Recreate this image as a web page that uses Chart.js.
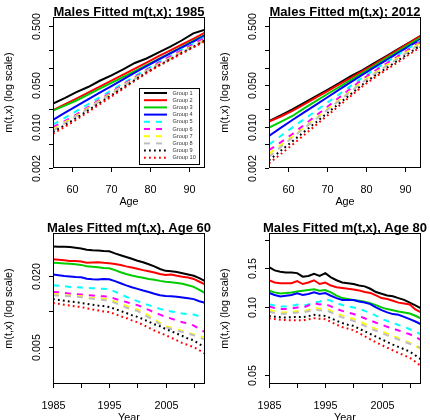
<!DOCTYPE html>
<html lang="en">
<head>
  <meta charset="UTF-8">
  <title>Males Fitted m(t,x)</title>
  <style>
    body { margin: 0; background: #fff; }
    #wrap { position: relative; width: 430px; height: 420px; overflow: hidden; }
    canvas { position: absolute; }
  </style>
</head>
<body>
  <div id="wrap">
    <canvas id="c1985" width="215" height="210" style="left:0;top:0"></canvas>
    <canvas id="c2012" width="215" height="210" style="left:215px;top:0"></canvas>
    <canvas id="cAge60" width="215" height="210" style="left:0;top:210px"></canvas>
    <canvas id="cAge80" width="215" height="210" style="left:215px;top:210px"></canvas>
  </div>

  <script src="https://cdn.jsdelivr.net/npm/chart.js"></script>
  <script>
    const groups = ['Group 1', 'Group 2', 'Group 3', 'Group 4', 'Group 5',
                    'Group 6', 'Group 7', 'Group 8', 'Group 9', 'Group 10'];

    const ages = [55, 58, 61, 64, 67, 70, 73, 76, 79, 82, 85, 88, 91, 94];
    const years = [1985, 1986, 1987, 1988, 1989, 1990, 1991, 1992, 1993, 1994,
                   1995, 1996, 1997, 1998, 1999, 2000, 2001, 2002, 2003, 2004,
                   2005, 2006, 2007, 2008, 2009, 2010, 2011, 2012];

    // fitted rates by age, year 1985 (one row per group)
    const fit1985 = [
      [0.0247, 0.0305, 0.0385, 0.0470, 0.0600, 0.0740, 0.0935, 0.120, 0.143, 0.180, 0.225, 0.288, 0.380, 0.440],
      [0.0191, 0.0238, 0.0298, 0.0377, 0.0477, 0.0603, 0.0763, 0.0965, 0.122, 0.155, 0.194, 0.244, 0.307, 0.390],
      [0.0188, 0.0227, 0.0278, 0.0350, 0.0440, 0.0553, 0.0694, 0.0874, 0.110, 0.139, 0.176, 0.223, 0.284, 0.360],
      [0.0130, 0.0171, 0.0223, 0.0290, 0.0376, 0.0487, 0.0632, 0.0820, 0.106, 0.136, 0.172, 0.218, 0.276, 0.350],
      [0.0109, 0.0141, 0.0183, 0.0240, 0.0315, 0.0415, 0.0545, 0.0718, 0.0944, 0.122, 0.157, 0.201, 0.257, 0.330],
      [0.0098, 0.0124, 0.0161, 0.0215, 0.0288, 0.0384, 0.0514, 0.0687, 0.0918, 0.119, 0.153, 0.195, 0.250, 0.320],
      [0.0091, 0.0118, 0.0154, 0.0206, 0.0276, 0.0369, 0.0494, 0.0660, 0.0883, 0.114, 0.145, 0.185, 0.235, 0.300],
      [0.0086, 0.0114, 0.0151, 0.0202, 0.0271, 0.0362, 0.0485, 0.0649, 0.0870, 0.112, 0.142, 0.180, 0.228, 0.290],
      [0.0081, 0.0106, 0.0140, 0.0188, 0.0253, 0.0341, 0.0458, 0.0616, 0.0829, 0.108, 0.138, 0.177, 0.226, 0.290],
      [0.0076, 0.0099, 0.0131, 0.0177, 0.0240, 0.0325, 0.0440, 0.0597, 0.0809, 0.106, 0.135, 0.172, 0.220, 0.280]
    ];

    // fitted rates by age, year 2012
    const fit2012 = [
      [0.0125, 0.0156, 0.0196, 0.0253, 0.0327, 0.0422, 0.0545, 0.0720, 0.0909, 0.119, 0.155, 0.203, 0.266, 0.350],
      [0.0122, 0.0149, 0.0185, 0.0239, 0.0310, 0.0401, 0.0520, 0.0674, 0.0873, 0.114, 0.151, 0.199, 0.262, 0.345],
      [0.0097, 0.0121, 0.0152, 0.0205, 0.0272, 0.0358, 0.0470, 0.0619, 0.0814, 0.107, 0.142, 0.187, 0.247, 0.325],
      [0.0070, 0.00957, 0.0130, 0.0175, 0.0234, 0.0315, 0.0423, 0.0568, 0.0762, 0.101, 0.133, 0.176, 0.231, 0.305],
      [0.0050, 0.00696, 0.00967, 0.0134, 0.0185, 0.0257, 0.0355, 0.0492, 0.0681, 0.0920, 0.123, 0.163, 0.217, 0.290],
      [0.0040, 0.00544, 0.00751, 0.0107, 0.0153, 0.0218, 0.0312, 0.0445, 0.0635, 0.0868, 0.116, 0.154, 0.206, 0.275],
      [0.0035, 0.00484, 0.00676, 0.00969, 0.0139, 0.0199, 0.0285, 0.0407, 0.0584, 0.0805, 0.108, 0.146, 0.197, 0.265],
      [0.0031, 0.00451, 0.00654, 0.00937, 0.0134, 0.0193, 0.0276, 0.0396, 0.0567, 0.0780, 0.105, 0.141, 0.190, 0.255],
      [0.0027, 0.00391, 0.00565, 0.00818, 0.0118, 0.0171, 0.0247, 0.0357, 0.0518, 0.0717, 0.0969, 0.131, 0.177, 0.240],
      [0.0024, 0.00343, 0.00495, 0.00724, 0.0106, 0.0155, 0.0226, 0.0331, 0.0484, 0.0672, 0.0909, 0.123, 0.167, 0.225]
    ];

    // fitted rates by year, age 60
    const fitAge60 = [
      [0.0353, 0.0352, 0.0351, 0.0349, 0.0345, 0.0339, 0.0331, 0.0328, 0.0327, 0.0324, 0.0322, 0.0309, 0.0298, 0.0288, 0.0278, 0.0268, 0.0260, 0.0250, 0.0240, 0.0228, 0.0220, 0.0218, 0.0215, 0.0210, 0.0205, 0.0200, 0.0191, 0.0180],
      [0.0276, 0.0273, 0.0270, 0.0267, 0.0266, 0.0264, 0.0258, 0.0259, 0.0260, 0.0257, 0.0255, 0.0251, 0.0246, 0.0240, 0.0235, 0.0229, 0.0223, 0.0218, 0.0213, 0.0207, 0.0203, 0.0205, 0.0200, 0.0196, 0.0193, 0.0188, 0.0178, 0.0169],
      [0.0258, 0.0256, 0.0254, 0.0252, 0.0250, 0.0247, 0.0240, 0.0238, 0.0236, 0.0233, 0.0231, 0.0223, 0.0214, 0.0207, 0.0201, 0.0196, 0.0192, 0.0188, 0.0185, 0.0181, 0.0178, 0.0176, 0.0174, 0.0171, 0.0166, 0.0161, 0.0152, 0.0143],
      [0.0205, 0.0202, 0.0199, 0.0197, 0.0195, 0.0194, 0.0189, 0.0187, 0.0186, 0.0188, 0.0187, 0.0180, 0.0173, 0.0166, 0.0160, 0.0155, 0.0150, 0.0146, 0.0141, 0.0137, 0.0135, 0.0134, 0.0133, 0.0131, 0.0129, 0.0127, 0.0122, 0.0118],
      [0.0166, 0.0165, 0.0163, 0.0161, 0.0160, 0.0159, 0.0158, 0.0157, 0.0156, 0.0155, 0.0154, 0.0147, 0.0140, 0.0133, 0.0127, 0.0122, 0.0117, 0.0113, 0.0109, 0.0105, 0.0102, 0.0100, 0.0098, 0.0096, 0.0095, 0.0094, 0.0091, 0.0087],
      [0.0146, 0.0145, 0.0143, 0.0141, 0.0140, 0.0139, 0.0137, 0.0136, 0.0135, 0.0134, 0.0133, 0.0128, 0.0124, 0.0120, 0.0116, 0.0113, 0.0108, 0.0103, 0.0098, 0.0094, 0.0090, 0.0087, 0.0084, 0.0081, 0.0079, 0.0076, 0.0071, 0.0067],
      [0.0140, 0.0139, 0.0137, 0.0136, 0.0135, 0.0134, 0.0132, 0.0130, 0.0129, 0.0128, 0.0127, 0.0121, 0.0116, 0.0111, 0.0107, 0.0104, 0.0098, 0.0092, 0.0086, 0.0080, 0.0075, 0.0073, 0.0071, 0.0068, 0.0066, 0.0064, 0.0062, 0.0060],
      [0.0137, 0.0136, 0.0135, 0.0134, 0.0133, 0.0132, 0.0130, 0.0128, 0.0127, 0.0125, 0.0124, 0.0118, 0.0113, 0.0108, 0.0104, 0.0101, 0.0095, 0.0089, 0.0084, 0.0078, 0.0074, 0.0071, 0.0069, 0.0067, 0.0065, 0.0063, 0.0060, 0.0058],
      [0.0127, 0.0125, 0.0123, 0.0121, 0.0120, 0.0118, 0.0116, 0.0114, 0.0112, 0.0111, 0.0109, 0.0105, 0.0101, 0.0097, 0.0093, 0.0090, 0.0086, 0.0082, 0.0078, 0.0075, 0.0071, 0.0068, 0.0065, 0.0062, 0.0059, 0.0057, 0.0053, 0.0050],
      [0.0118, 0.0116, 0.0114, 0.0112, 0.0110, 0.0109, 0.0106, 0.0104, 0.0102, 0.0100, 0.0099, 0.0095, 0.0091, 0.0088, 0.0084, 0.0081, 0.0077, 0.0073, 0.0069, 0.0066, 0.0063, 0.0060, 0.0057, 0.0054, 0.0052, 0.0050, 0.0047, 0.0044]
    ];

    // fitted rates by year, age 80
    const fitAge80 = [
      [0.151, 0.146, 0.144, 0.143, 0.143, 0.142, 0.137, 0.138, 0.141, 0.138, 0.142, 0.136, 0.132, 0.129, 0.128, 0.127, 0.125, 0.124, 0.121, 0.117, 0.115, 0.113, 0.112, 0.110, 0.108, 0.105, 0.102, 0.099],
      [0.132, 0.129, 0.128, 0.128, 0.128, 0.131, 0.127, 0.129, 0.132, 0.127, 0.129, 0.125, 0.123, 0.122, 0.121, 0.120, 0.119, 0.117, 0.116, 0.113, 0.110, 0.109, 0.107, 0.105, 0.104, 0.103, 0.098, 0.095],
      [0.1186, 0.1166, 0.1154, 0.1158, 0.1166, 0.1178, 0.1186, 0.1195, 0.1203, 0.1186, 0.1195, 0.1166, 0.1127, 0.1100, 0.1089, 0.1078, 0.1071, 0.1060, 0.1045, 0.1024, 0.1000, 0.0983, 0.0972, 0.0959, 0.0950, 0.0940, 0.0918, 0.0893],
      [0.1158, 0.1135, 0.1119, 0.1127, 0.1135, 0.1154, 0.1135, 0.1147, 0.1166, 0.1147, 0.1158, 0.1127, 0.1100, 0.1078, 0.1078, 0.1078, 0.1063, 0.1052, 0.1034, 0.1000, 0.0972, 0.0950, 0.0934, 0.0927, 0.0908, 0.0887, 0.0866, 0.0842],
      [0.1034, 0.1020, 0.1008, 0.1010, 0.1015, 0.1030, 0.1020, 0.1030, 0.1055, 0.1060, 0.1089, 0.1070, 0.1045, 0.1025, 0.1010, 0.1000, 0.0985, 0.0965, 0.0945, 0.0920, 0.0890, 0.0870, 0.0855, 0.0835, 0.0820, 0.0800, 0.0780, 0.0760],
      [0.1010, 0.0995, 0.0985, 0.0985, 0.0990, 0.1000, 0.0995, 0.1020, 0.1045, 0.1030, 0.1035, 0.1010, 0.0985, 0.0965, 0.0950, 0.0935, 0.0915, 0.0895, 0.0875, 0.0855, 0.0840, 0.0820, 0.0805, 0.0790, 0.0775, 0.0760, 0.0740, 0.0715],
      [0.0972, 0.0960, 0.0950, 0.0950, 0.0955, 0.0962, 0.0960, 0.0975, 0.0998, 0.0985, 0.0990, 0.0965, 0.0942, 0.0922, 0.0905, 0.0890, 0.0868, 0.0845, 0.0822, 0.0802, 0.0785, 0.0765, 0.0748, 0.0730, 0.0712, 0.0695, 0.0675, 0.0652],
      [0.0956, 0.0945, 0.0938, 0.0938, 0.0942, 0.0950, 0.0948, 0.0962, 0.0982, 0.0970, 0.0975, 0.0950, 0.0925, 0.0903, 0.0888, 0.0872, 0.0850, 0.0828, 0.0807, 0.0788, 0.0770, 0.0752, 0.0736, 0.0720, 0.0705, 0.0690, 0.0675, 0.0660],
      [0.0917, 0.0910, 0.0905, 0.0902, 0.0905, 0.0908, 0.0905, 0.0915, 0.0927, 0.0920, 0.0917, 0.0895, 0.0873, 0.0852, 0.0838, 0.0828, 0.0805, 0.0783, 0.0762, 0.0742, 0.0722, 0.0702, 0.0684, 0.0668, 0.0652, 0.0636, 0.0612, 0.0588],
      [0.0896, 0.0888, 0.0882, 0.0878, 0.0878, 0.0878, 0.0876, 0.0885, 0.0896, 0.0890, 0.0887, 0.0862, 0.0838, 0.0818, 0.0805, 0.0792, 0.0768, 0.0745, 0.0722, 0.0700, 0.0681, 0.0662, 0.0645, 0.0628, 0.0612, 0.0598, 0.0574, 0.0549]
    ];

    // axis ticks (empty label = tick without text, as R drops overlapping labels)
    const ageTicks = [60, 70, 80, 90];
    const ageTickLabels = ['60', '70', '80', '90'];
    const yearTicks = [1985, 1990, 1995, 2000, 2005, 2010];
    const yearTickLabels = ['1985', '', '1995', '', '2005', ''];
    const rateTicks = [0.002, 0.005, 0.01, 0.02, 0.05, 0.1, 0.2, 0.5];
    const rateTickLabels = ['0.002', '', '0.010', '', '0.050', '', '', '0.500'];
    const age60Ticks = [0.005, 0.01, 0.02];
    const age60TickLabels = ['0.005', '', '0.020'];
    const age80Ticks = [0.05, 0.1, 0.15, 0.2];
    const age80TickLabels = ['0.05', '0.10', '0.15', ''];

    // R base palette + lty 1/2/3
    const colors = ['#000000', '#FF0000', '#00CD00', '#0000FF', '#00FFFF',
                    '#FF00FF', '#FFFF00', '#BEBEBE', '#000000', '#FF0000'];
    const dashes = [[], [], [], [], [6, 6], [6, 6], [6, 6], [6, 6], [1.8, 3.2], [1.8, 3.2]];

    const FONT = '"Liberation Sans", Arial, Helvetica, sans-serif';

    // draws the R-style box, outward ticks, rotated y labels, titles and legend
    const rAxes = {
      id: 'rAxes',
      afterDraw(chart, args, o) {
        const { ctx, chartArea: a, scales: { x, y } } = chart;
        ctx.save();
        ctx.setLineDash([]);
        ctx.strokeStyle = '#000';
        ctx.fillStyle = '#000';
        ctx.lineWidth = 1;
        ctx.strokeRect(a.left + 0.5, a.top + 0.5, a.right - a.left - 1, a.bottom - a.top - 1);

        ctx.font = '10.8px ' + FONT;
        ctx.textAlign = 'center';
        ctx.textBaseline = 'alphabetic';
        o.xTicks.forEach((v, i) => {
          const px = Math.round(x.getPixelForValue(v)) + 0.5;
          ctx.beginPath();
          ctx.moveTo(px, a.bottom);
          ctx.lineTo(px, a.bottom + 4);
          ctx.stroke();
          if (o.xLabels[i]) ctx.fillText(o.xLabels[i], px, a.bottom + 24.5);
        });
        o.yTicks.forEach((v, i) => {
          const py = Math.round(y.getPixelForValue(v)) + 0.5;
          ctx.beginPath();
          ctx.moveTo(a.left - 4, py);
          ctx.lineTo(a.left, py);
          ctx.stroke();
          if (o.yLabels[i]) {
            ctx.save();
            ctx.translate(a.left - 12.6, py);
            ctx.rotate(-Math.PI / 2);
            ctx.fillText(o.yLabels[i], 0, 0);
            ctx.restore();
          }
        });

        const cx = (a.left + a.right) / 2;
        ctx.fillText(o.xTitle, cx, a.bottom + 36.5);
        ctx.save();
        ctx.translate(a.left - 41, (a.top + a.bottom) / 2);
        ctx.rotate(-Math.PI / 2);
        ctx.fillText(o.yTitle, 0, 0);
        ctx.restore();

        ctx.font = 'bold 13px ' + FONT;
        ctx.fillText(o.title, cx, a.top - 1.5);

        if (o.legend) {
          const L = o.legend;
          ctx.fillStyle = '#fff';
          ctx.fillRect(L.x, L.y, L.w, L.h);
          ctx.strokeStyle = '#000';
          ctx.strokeRect(L.x + 0.5, L.y + 0.5, L.w, L.h);
          ctx.font = '5.6px ' + FONT;
          ctx.textAlign = 'left';
          ctx.textBaseline = 'middle';
          chart.data.datasets.forEach((ds, i) => {
            const ry = L.y + 5 + i * 7.2;
            ctx.strokeStyle = ds.borderColor;
            ctx.lineWidth = ds.borderWidth;
            ctx.setLineDash(ds.borderDash);
            ctx.beginPath();
            ctx.moveTo(L.x + 5, ry);
            ctx.lineTo(L.x + 28, ry);
            ctx.stroke();
            ctx.fillStyle = '#333';
            ctx.fillText(ds.label, L.x + 33.5, ry);
          });
        }
        ctx.restore();
      }
    };

    function panel(id, xs, series, xr, yr, pad, axes) {
      return new Chart(document.getElementById(id), {
        type: 'line',
        data: {
          datasets: series.map((vals, i) => ({
            label: groups[i],
            data: xs.map((v, j) => ({ x: v, y: vals[j] })),
            borderColor: colors[i],
            borderDash: dashes[i],
            borderWidth: 2,
            pointRadius: 0,
            tension: 0,
            fill: false,
            clip: 0,
            order: groups.length - i
          }))
        },
        options: {
          responsive: false,
          animation: false,
          events: [],
          layout: { padding: pad },
          scales: {
            x: { type: 'linear', min: xr[0], max: xr[1], display: false },
            y: { type: 'logarithmic', min: yr[0], max: yr[1], display: false }
          },
          plugins: { legend: { display: false }, tooltip: { enabled: false }, rAxes: axes }
        },
        plugins: [rAxes]
      });
    }

    const yLab = 'm(t,x) (log scale)';

    panel('c1985', ages, fit1985, [55, 94], [0.002, 0.72],
      { left: 53, right: 10, top: 17, bottom: 42 },
      { title: 'Males Fitted m(t,x); 1985', xTitle: 'Age', yTitle: yLab,
        xTicks: ageTicks, xLabels: ageTickLabels, yTicks: rateTicks, yLabels: rateTickLabels,
        legend: { x: 139, y: 88, w: 60, h: 76 } });

    panel('c2012', ages, fit2012, [55, 94], [0.002, 0.72],
      { left: 54, right: 9, top: 17, bottom: 42 },
      { title: 'Males Fitted m(t,x); 2012', xTitle: 'Age', yTitle: yLab,
        xTicks: ageTicks, xLabels: ageTickLabels, yTicks: rateTicks, yLabels: rateTickLabels,
        legend: null });

    panel('cAge60', years, fitAge60, [1985, 2012], [0.00244, 0.0459],
      { left: 53, right: 10, top: 23, bottom: 36 },
      { title: 'Males Fitted m(t,x), Age 60', xTitle: 'Year', yTitle: yLab,
        xTicks: yearTicks, xLabels: yearTickLabels, yTicks: age60Ticks, yLabels: age60TickLabels,
        legend: null });

    panel('cAge80', years, fitAge80, [1985, 2012], [0.0457, 0.214],
      { left: 54, right: 9, top: 23, bottom: 36 },
      { title: 'Males Fitted m(t,x), Age 80', xTitle: 'Year', yTitle: yLab,
        xTicks: yearTicks, xLabels: yearTickLabels, yTicks: age80Ticks, yLabels: age80TickLabels,
        legend: null });
  </script>
</body>
</html>
